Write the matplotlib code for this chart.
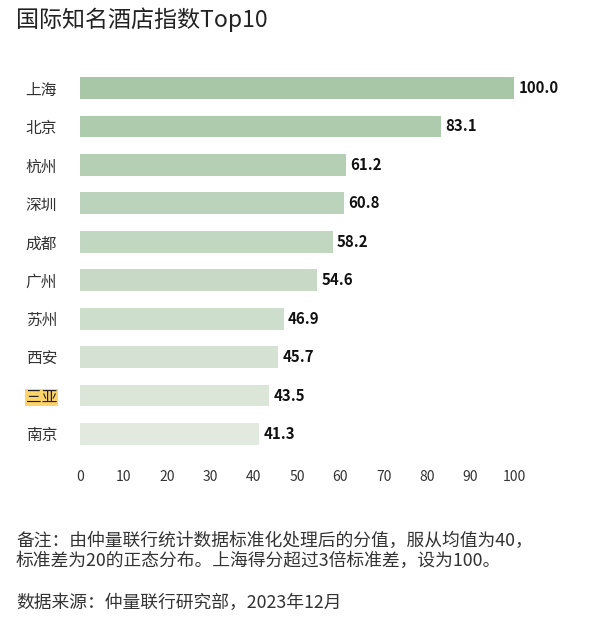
import numpy as np
import matplotlib
matplotlib.use('Agg')
from matplotlib import pyplot as plt
from matplotlib.colors import to_rgb

plt.rcParams['font.family'] = ['Noto Sans CJK SC', 'DejaVu Sans']

'''Data'''
cities = ['上海', '北京', '杭州', '深圳', '成都', '广州', '苏州', '西安', '三亚', '南京']
scores = [100.0, 83.1, 61.2, 60.8, 58.2, 54.6, 46.9, 45.7, 43.5, 41.3]
highlight = '三亚'

title = '国际知名酒店指数Top10'
note = ('备注：由仲量联行统计数据标准化处理后的分值，服从均值为40，\n'
        '标准差为20的正态分布。上海得分超过3倍标准差，设为100。')
source = '数据来源：仲量联行研究部，2023年12月'

'''Colours fade from top bar to bottom bar'''
c_top = np.array(to_rgb('#a7c7a7'))
c_bot = np.array(to_rgb('#e2eadf'))
n = len(cities)
colors = [tuple(c_top + (c_bot - c_top) * i / (n - 1)) for i in range(n)]

W, H = 601, 628
fig = plt.figure(figsize=(W / 100, H / 100), dpi=100)
ax = fig.add_axes([80 / W, 1 - 457 / H, (514 - 80) / W, (457 - 65) / H])

y = np.arange(n)
bars = ax.barh(y, scores, height=0.57, color=colors, edgecolor='none')
for yi, v in zip(y, scores):
    ax.text(v + 1.0, yi, f'{v:.1f}', va='center', ha='left',
            fontsize=10.8, fontweight='bold', color='#111111')

ax.set_xlim(0, 100)
ax.set_ylim(n - 1 + 0.6, -0.6)
ax.set_xticks(range(0, 101, 10))
ax.set_yticks(y)
ax.set_yticklabels(cities, fontsize=11.3, color='#333333')
for lbl in ax.get_yticklabels():
    if lbl.get_text() == highlight:
        lbl.set_color('#222222')
        lbl.set_bbox(dict(facecolor='#fcd46a', edgecolor='none', pad=0.3))
ax.tick_params(axis='y', length=0, pad=16.5)
ax.tick_params(axis='x', length=0, pad=9.5, labelsize=10, labelcolor='#333333')
for s in ax.spines.values():
    s.set_visible(False)

fig.text(16 / W, 1 - 20 / H, title, fontsize=16.6, color='#222222', va='center', ha='left')
fig.text(16 / W, 1 - 551 / H, note, fontsize=12.8, color='#333333', va='center', ha='left',
         linespacing=1.2)
fig.text(16 / W, 1 - 603 / H, source, fontsize=12.8, color='#333333', va='center', ha='left')

fig.savefig('out.png', dpi=100)
